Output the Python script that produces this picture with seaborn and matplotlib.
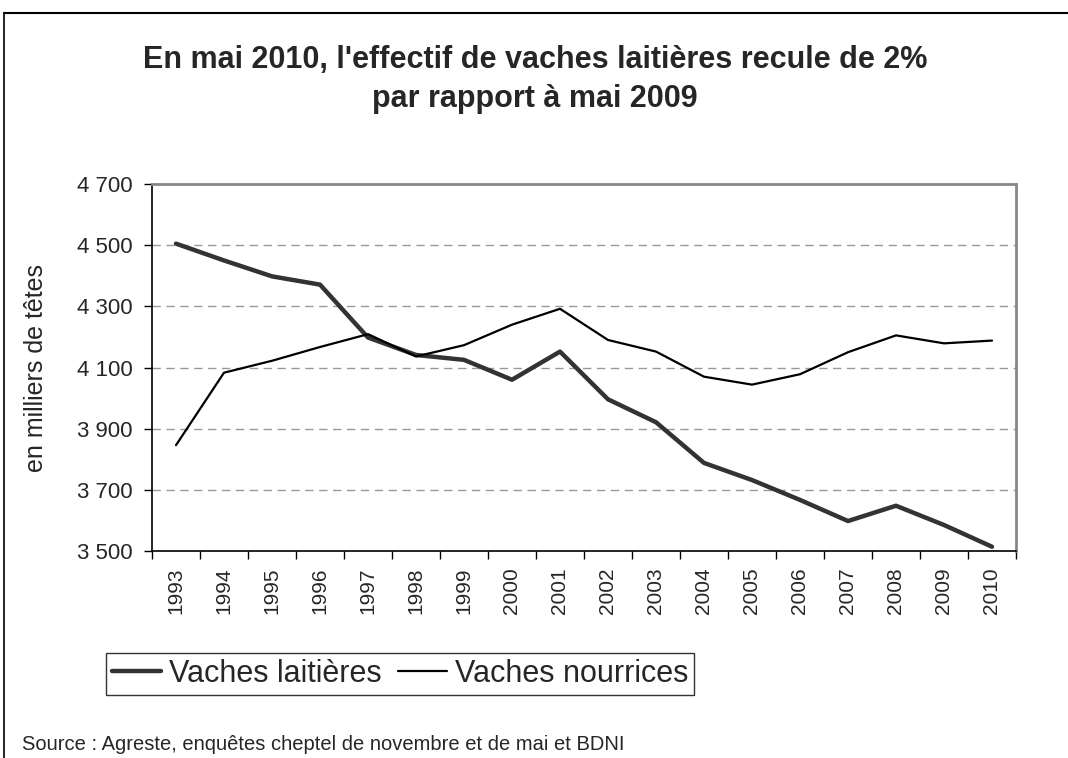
import matplotlib
matplotlib.use("Agg")
import matplotlib.pyplot as plt
import seaborn as sns
import pandas as pd
import numpy as np
from matplotlib.ticker import FixedLocator, FuncFormatter
from matplotlib.lines import Line2D

years = [str(y) for y in range(1993, 2011)]
laitieres = [4505, 4450, 4398, 4371, 4198, 4141, 4125, 4060, 4152,
             3996, 3921, 3788, 3732, 3667, 3598, 3648, 3585, 3514]
nourrices = [3846, 4083, 4122, 4167, 4209, 4136, 4173, 4240, 4292,
             4190, 4152, 4070, 4044, 4078, 4150, 4205, 4179, 4188]
series_names = ["Vaches laitières", "Vaches nourrices"]
y_ticks = [3500, 3700, 3900, 4100, 4300, 4500, 4700]

sns.set_style("white")
plt.rcParams['font.family'] = ['Liberation Sans', 'DejaVu Sans']

df = pd.DataFrame({
    "pos": list(range(len(years))) * 2,
    "value": laitieres + nourrices,
    "serie": [series_names[0]] * len(years) + [series_names[1]] * len(years),
})

fig = plt.figure(figsize=(10.68, 7.58), dpi=100)
ax = fig.add_axes([152/1068, 1-551/758, (1016-152)/1068, (551-184)/758])

sns.lineplot(data=df, x="pos", y="value", hue="serie", size="serie",
             sizes={series_names[0]: 3.2, series_names[1]: 1.6},
             palette={series_names[0]: "#333333", series_names[1]: "#000000"},
             ax=ax, legend=False)

ax.set_xlim(-0.5, len(years) - 0.5)
ax.set_ylim(3500, 4700)

ax.yaxis.set_major_locator(FixedLocator(y_ticks))
ax.yaxis.set_major_formatter(FuncFormatter(lambda v, p: f"{int(v):,}".replace(",", " ")))
ax.tick_params(axis='y', which='major', direction='out', length=6, width=1,
               color='black', labelsize=16, pad=8, left=True)

ax.xaxis.set_major_locator(FixedLocator(np.arange(-0.5, len(years), 1.0)))
ax.xaxis.set_major_formatter(FuncFormatter(lambda v, p: ""))
ax.set_xticks(range(len(years)), years, minor=True)
ax.tick_params(axis='x', which='major', direction='out', length=6, width=1,
               color='black', bottom=True)
ax.tick_params(axis='x', which='minor', length=0, labelsize=15, pad=12,
               labelrotation=90)

for v in y_ticks[1:-1]:
    ax.axhline(v, color='#999999', lw=1, ls=(0, (6, 4)), zorder=0)

ax.spines['left'].set_color('black')
ax.spines['left'].set_linewidth(1.2)
ax.spines['bottom'].set_color('black')
ax.spines['bottom'].set_linewidth(1.2)
ax.spines['top'].set_color('#888888')
ax.spines['top'].set_linewidth(2)
ax.spines['right'].set_color('#888888')
ax.spines['right'].set_linewidth(2)

ax.set_xlabel("")
ax.set_ylabel("en milliers de têtes", fontsize=18)
ax.yaxis.set_label_coords((48 - 152) / (1016 - 152), 0.5)

fig.text(535/1068, 1-60/758, "En mai 2010, l'effectif de vaches laitières recule de 2%",
         ha='center', va='center', fontsize=22, fontweight='bold')
fig.text(535/1068, 1-99/758, "par rapport à mai 2009",
         ha='center', va='center', fontsize=22, fontweight='bold')

handles = [Line2D([], [], color="#333333", lw=3.2), Line2D([], [], color="#000000", lw=1.6)]
leg = fig.legend(handles, series_names, loc='center', bbox_to_anchor=(400/1068, 1-674/758),
                 ncol=2, fontsize=22, frameon=True, fancybox=False, handlelength=1.6,
                 handletextpad=0.25, columnspacing=0.55, borderpad=0.2, borderaxespad=0)
leg.get_frame().set_edgecolor('black')
leg.get_frame().set_linewidth(1)

fig.text(22/1068, 1-745/758, "Source : Agreste, enquêtes cheptel de novembre et de mai et BDNI",
         ha='left', va='center', fontsize=14.5)

fig.add_artist(Line2D([4/1068, 4/1068], [0, 1-13/758], color='black', lw=1.2, transform=fig.transFigure))
fig.add_artist(Line2D([4/1068, 1], [1-13/758, 1-13/758], color='black', lw=1.5, transform=fig.transFigure))

fig.savefig("out.png", dpi=100)
